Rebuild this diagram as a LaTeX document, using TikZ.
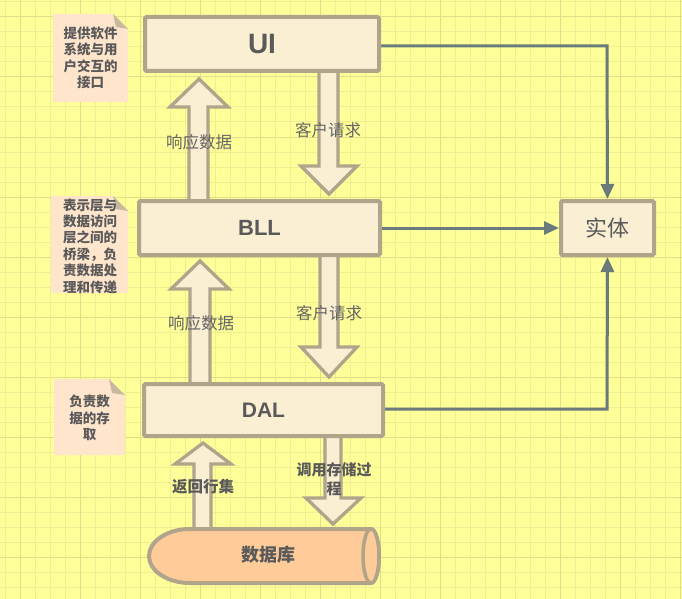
\documentclass[tikz,border=0pt]{standalone}
\usepackage{fontspec}
\setmainfont{Noto Sans CJK SC}
\newfontfamily\latin{Liberation Sans}
\usetikzlibrary{arrows.meta}
\definecolor{bgc}{HTML}{FFFF99}
\definecolor{gridminor}{HTML}{F0EE92}
\definecolor{gridmajor}{HTML}{E3DC88}
\definecolor{boxfill}{HTML}{FAEED3}
\definecolor{boxline}{HTML}{B0A48A}
\definecolor{notefill}{HTML}{FFE5CC}
\definecolor{foldc}{HTML}{C8B89E}
\definecolor{conn}{HTML}{6B7B7B}
\definecolor{txt}{HTML}{5A5A5A}
\definecolor{lbl}{HTML}{666666}
\definecolor{dbfill}{HTML}{FFCC99}
\pgfdeclarelayer{gridlayer}
\pgfdeclarelayer{midlayer}
\pgfsetlayers{gridlayer,midlayer,main}
\tikzset{
  layerbox/.style={draw=boxline, fill=boxfill, line width=4pt, rounded corners=1.5pt, text=txt, inner sep=0pt},
  blockarrow/.style={draw=boxline, fill=boxfill, line width=3.3pt, line join=miter},
  notetext/.style={text=txt, font=\bfseries\fontsize{13.5}{16.5}\selectfont, align=center, inner sep=0pt},
  arrowlabel/.style={text=lbl, font=\fontsize{16.5}{19}\selectfont, inner sep=0pt},
  darklabel/.style={text=txt, font=\bfseries\fontsize{15.5}{19}\selectfont, align=center, inner sep=0pt},
  connector/.style={draw=conn, line width=3pt, -{Triangle[length=15pt,width=13pt]}},
}
\begin{document}
\begin{tikzpicture}[x=1pt,y=-1pt]
\useasboundingbox (0,0) rectangle (682,599);
\begin{pgfonlayer}{gridlayer}
\fill[bgc] (0,0) rectangle (682,599);
\foreach \x in {5,20,...,680} \draw[gridminor, line width=1pt] (\x,0) -- (\x,599);
\foreach \y in {2,17,...,599} \draw[gridminor, line width=1pt] (0,\y) -- (682,\y);
\foreach \x in {20,80,...,680} \draw[gridmajor, line width=1pt] (\x,0) -- (\x,599);
\foreach \y in {17,77,...,599} \draw[gridmajor, line width=1pt] (0,\y) -- (682,\y);
\end{pgfonlayer}

% main layer boxes
\node[layerbox, minimum width=234pt, minimum height=54pt, font=\latin\bfseries\fontsize{28}{30}\selectfont] (ui) at (262,44) {UI};
\node[layerbox, minimum width=241pt, minimum height=54pt, font=\latin\bfseries\fontsize{22}{24}\selectfont] (bll) at (259.5,228) {BLL};
\node[layerbox, minimum width=239pt, minimum height=52pt, font=\latin\bfseries\fontsize{21}{24}\selectfont] (dal) at (263.5,410) {DAL};
\node[layerbox, minimum width=93pt, minimum height=54pt, font=\fontsize{22}{24}\selectfont] (ent) at (607.5,228) {实体};

% database cylinder
\draw[draw=boxline, fill=dbfill, line width=4pt]
  (190,529) -- (371,529)
  .. controls (375.4,529) and (379,541.1) .. (379,556)
  .. controls (379,570.9) and (375.4,583) .. (371,583)
  -- (190,583)
  .. controls (167.4,583) and (149,570.9) .. (149,556)
  .. controls (149,541.1) and (167.4,529) .. cycle;
\draw[draw=boxline, fill=dbfill, line width=3.5pt] (371,556) ellipse [x radius=8, y radius=27];
\node[text=txt, font=\bfseries\fontsize{18}{20}\selectfont, inner sep=0pt] (db) at (268,555) {数据库};

% notes
\fill[notefill] (53,14) -- (113,14) -- (128,29) -- (128,102) -- (53,102) -- cycle;
\fill[foldc] (113,14) -- (128,29) -- (116,27) -- cycle;
\node[notetext] (n1) at (90.5,58) {提供软件\\系统与用\\户交互的\\接口};

\fill[notefill] (51,196) -- (113,196) -- (128,211) -- (128,293) -- (51,293) -- cycle;
\fill[foldc] (113,196) -- (128,211) -- (116,209) -- cycle;
\node[notetext, font=\bfseries\fontsize{13.5}{16.4}\selectfont] (n2) at (90,246) {表示层与\\数据访问\\层之间的\\桥梁，负\\责数据处\\理和传递};

\fill[notefill] (54,379) -- (109,379) -- (125,395) -- (125,455) -- (54,455) -- cycle;
\fill[foldc] (109,379) -- (125,395) -- (112,393) -- cycle;
\node[notetext] (n3) at (89.5,418) {负责数\\据的存\\取};

\begin{pgfonlayer}{midlayer}
% block arrows
\draw[blockarrow] (189,201) -- (189,107) -- (170,107) -- (199,79) -- (228,107) -- (208,107) -- (208,201) -- cycle;
\draw[blockarrow] (319,71) -- (319,166) -- (301,166) -- (329,194) -- (357,166) -- (338,166) -- (338,71) -- cycle;
\draw[blockarrow] (190,384) -- (190,289) -- (171,289) -- (200,261) -- (229,289) -- (210,289) -- (210,384) -- cycle;
\draw[blockarrow] (320,255) -- (320,347) -- (301,347) -- (329,377) -- (357,347) -- (338,347) -- (338,255) -- cycle;
\draw[blockarrow] (194,529) -- (194,464) -- (175,464) -- (203,443) -- (231,464) -- (211,464) -- (211,529) -- cycle;
\draw[blockarrow] (325,436) -- (325,498) -- (306,498) -- (333,524) -- (361,498) -- (341,498) -- (341,436) -- cycle;
% connectors
\draw[connector] (ui.east |- 0,46) -- (607,46) -- (ent.north);
\draw[connector] (bll.east) -- (ent.west);
\draw[connector] (dal.east |- 0,409) -- (607,409) -- (ent.south);
\end{pgfonlayer}

% labels
\node[arrowlabel] (l1) at (199,142) {响应数据};
\node[arrowlabel] (l2) at (328,130) {客户请求};
\node[arrowlabel] (l3) at (201,323) {响应数据};
\node[arrowlabel] (l4) at (329,313) {客户请求};
\node[darklabel] (l5) at (203,487) {返回行集};
\node[darklabel, font=\bfseries\fontsize{15}{19}\selectfont] (l6) at (334,479) {调用存储过\\程};
\end{tikzpicture}
\end{document}
